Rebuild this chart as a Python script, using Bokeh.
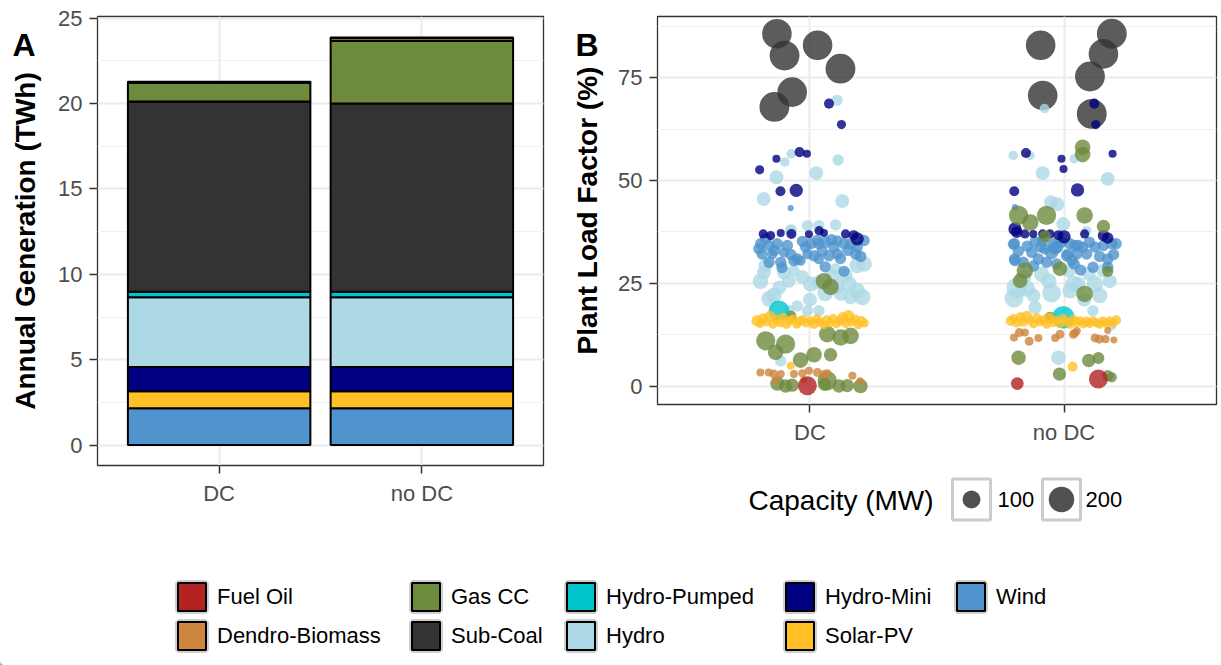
import numpy as np
from bokeh.plotting import figure
from bokeh.models import (Range1d, SingleIntervalTicker, FixedTicker, ColumnDataSource,
                          Legend, LegendItem)
from bokeh.core.properties import value
from bokeh.layouts import column, row
from bokeh.embed import file_html
from bokeh.resources import INLINE

FONT = "Liberation Sans"

scenarios = ["DC", "no DC"]
scenario_pos = [1, 2]

# plant types in legend order, with their fill colours
plant_types = ["Fuel Oil", "Dendro-Biomass", "Gas CC", "Sub-Coal", "Hydro-Pumped",
               "Hydro", "Hydro-Mini", "Solar-PV", "Wind"]
type_colors = ["#B22222", "#CD853F", "#6E8B3D", "#333333", "#00C5CD",
               "#ADD8E6", "#000080", "#FFC125", "#4F94CD"]
color_of = dict(zip(plant_types, type_colors))

# ---- Panel A: annual generation (TWh) per plant type, [DC, no DC]
gen_wind = [2.15, 2.15]
gen_solar = [1.00, 1.00]
gen_hydro_mini = [1.42, 1.42]
gen_hydro = [4.08, 4.08]
gen_hydro_pumped = [0.33, 0.33]
gen_sub_coal = [11.14, 11.02]
gen_gas_cc = [1.10, 3.68]
gen_biomass = [0.04, 0.15]
gen_fuel_oil = [0.01, 0.04]

# ---- Panel B: individual plants as (jitter, plant load factor %, capacity MW)
dc_sub_coal = [(-0.13, 85.7, 270), (-0.10, 80.4, 275), (0.03, 82.9, 270), (0.12, 77.2, 275),
               (-0.07, 71.5, 270), (-0.14, 67.9, 275)]
dc_hydro = [(0.107, 69.5, 40), (-0.074, 56.5, 28), (-0.099, 54.5, 28), (0.025, 51.8, 60),
            (0.111, 55.0, 40), (-0.132, 50.8, 60), (-0.182, 45.5, 60), (0.127, 45.0, 60),
            (-0.074, 38.0, 40), (-0.010, 39.0, 40), (0.035, 39.0, 40), (0.101, 39.2, 40),
            (-0.076, 37.8, 40), (-0.181, 27.6, 60), (-0.175, 29.3, 60), (-0.102, 27.6, 60),
            (-0.083, 25.6, 60), (-0.142, 22.0, 75), (-0.161, 21.2, 75), (0.003, 24.8, 75),
            (0.035, 25.2, 60), (0.088, 26.8, 60), (0.108, 24.4, 75), (0.154, 24.8, 75),
            (0.186, 23.2, 75), (0.206, 21.6, 85), (0.186, 29.3, 75), (0.121, 22.4, 60),
            (0.160, 21.6, 60), (-0.050, 19.5, 40), (-0.083, 18.3, 40), (-0.010, 18.3, 40),
            (0.035, 18.3, 40), (-0.115, 6.1, 40), (-0.063, 28.1, 40), (0.101, 28.5, 40),
            (0.213, 29.7, 75), (-0.195, 25.5, 75), (-0.120, 24.0, 60), (0.060, 22.5, 75),
            (0.140, 27.0, 60), (-0.030, 26.5, 60), (0.000, 21.0, 60)]
dc_wind = [(-0.194, 34.6, 40), (-0.161, 34.2, 40), (-0.129, 34.6, 40), (-0.089, 34.2, 40),
           (-0.188, 32.1, 40), (-0.148, 32.1, 33), (-0.115, 30.1, 40), (-0.063, 30.5, 40),
           (-0.037, 30.5, 33), (-0.017, 33.8, 40), (0.003, 34.6, 40), (0.035, 34.6, 40),
           (0.062, 35.0, 40), (0.094, 33.8, 40), (0.108, 32.1, 40), (0.134, 34.6, 40),
           (0.160, 34.6, 40), (0.186, 33.8, 40), (0.180, 32.1, 40), (0.016, 31.7, 40),
           (0.035, 30.9, 33), (0.075, 31.7, 40), (0.134, 27.9, 40), (0.029, 35.4, 40),
           (-0.010, 32.1, 33), (-0.161, 30.1, 40), (-0.050, 30.9, 40), (-0.102, 32.5, 33),
           (-0.201, 33.4, 40), (0.213, 35.4, 40), (0.108, 35.4, 33), (-0.076, 43.3, 12),
           (-0.175, 35.8, 40), (-0.140, 33.0, 40), (-0.075, 32.0, 40), (-0.030, 35.2, 40),
           (0.048, 32.8, 40), (0.085, 35.6, 40), (0.120, 31.0, 40), (0.150, 33.0, 40),
           (0.200, 31.5, 40), (-0.110, 28.8, 40), (0.060, 29.0, 40)]
dc_hydro_mini = [(0.075, 68.7, 31), (0.124, 63.6, 26), (-0.198, 52.6, 26), (-0.132, 55.3, 20),
                 (-0.041, 56.9, 31), (-0.012, 56.5, 20), (-0.116, 47.4, 31), (-0.054, 47.6, 55),
                 (-0.184, 37.0, 26), (-0.155, 36.6, 26), (-0.115, 37.2, 20), (-0.073, 37.0, 31),
                 (-0.004, 36.9, 20), (0.036, 37.8, 26), (0.055, 37.2, 20), (0.140, 37.0, 26),
                 (0.186, 35.8, 55), (0.172, 36.7, 31)]
dc_gas_cc = [(0.055, 25.5, 85), (0.081, 24.1, 85), (-0.076, 17.0, 40), (-0.174, 11.0, 115),
             (-0.096, 10.2, 115), (-0.135, 8.2, 75), (-0.037, 6.3, 75), (0.016, 7.6, 75),
             (0.081, 7.6, 55), (0.068, 12.6, 85), (0.121, 11.8, 85), (0.160, 12.2, 85),
             (-0.128, 0.6, 65), (-0.096, 0.0, 55), (-0.070, 0.2, 55), (0.068, 1.3, 115),
             (0.114, 0.0, 55), (0.147, 0.1, 55), (0.199, 0.0, 65), (0.058, 0.4, 55)]
dc_hydro_pumped = [(-0.122, 18.3, 130)]
dc_solar = [(-0.208, 15.9, 40), (-0.196, 15.2, 25), (-0.183, 16.5, 31), (-0.171, 15.6, 25),
            (-0.157, 16.9, 40), (-0.146, 15.0, 25), (-0.131, 16.2, 31), (-0.118, 15.4, 25),
            (-0.104, 16.7, 25), (-0.093, 15.1, 31), (-0.079, 15.9, 25), (-0.066, 16.3, 25),
            (-0.052, 15.0, 25), (-0.041, 15.7, 31), (-0.027, 16.2, 25), (-0.014, 15.3, 25),
            (0.003, 15.9, 25), (0.015, 15.1, 31), (0.028, 16.4, 25), (0.041, 15.5, 25),
            (0.054, 14.9, 25), (0.066, 16.0, 31), (0.079, 15.4, 25), (0.091, 16.4, 25),
            (0.104, 15.1, 25), (0.117, 15.8, 31), (0.129, 16.6, 40), (0.142, 15.2, 25),
            (0.152, 17.1, 40), (0.165, 15.6, 25), (0.178, 16.2, 31), (0.190, 14.9, 25),
            (0.202, 15.8, 31), (0.214, 15.3, 25), (-0.076, 4.9, 20)]
dc_biomass = [(-0.195, 3.3, 20), (-0.162, 3.3, 20), (-0.142, 2.9, 25), (-0.115, 2.9, 20),
              (-0.063, 2.9, 20), (-0.030, 3.1, 20), (-0.004, 3.7, 20), (0.029, 3.3, 25),
              (0.055, 2.9, 20), (0.068, 3.1, 20), (0.167, 2.5, 20), (0.197, 1.3, 15),
              (-0.135, 1.3, 15), (-0.024, 1.5, 15)]
dc_fuel_oil = [(-0.010, 0.05, 110)]

nodc_sub_coal = [(-0.092, 82.9, 270), (0.188, 85.7, 275), (0.155, 80.8, 270), (0.102, 75.3, 275),
                 (-0.084, 70.7, 270), (0.109, 66.2, 275)]
nodc_hydro = [(-0.077, 67.5, 28), (-0.200, 56.1, 28), (-0.134, 56.1, 28), (-0.084, 51.8, 60),
              (0.040, 55.3, 28), (0.172, 50.4, 60), (-0.051, 44.7, 60), (-0.026, 44.2, 60),
              (-0.003, 39.4, 60), (0.089, 37.8, 28), (-0.186, 23.9, 130), (-0.197, 21.4, 110),
              (-0.147, 23.7, 85), (-0.088, 27.2, 75), (-0.049, 22.6, 110), (-0.114, 19.1, 55),
              (-0.022, 6.9, 65), (0.037, 24.8, 85), (0.024, 23.2, 75), (0.122, 24.8, 85),
              (0.056, 24.8, 65), (0.114, 18.3, 40), (0.188, 14.7, 28), (0.155, 28.1, 60),
              (0.097, 27.3, 60), (0.020, 28.0, 60), (-0.160, 26.5, 75), (-0.060, 25.5, 75),
              (0.080, 21.0, 60), (0.140, 22.0, 75), (0.180, 25.5, 60), (-0.120, 22.0, 60)]
nodc_wind = [(-0.199, 34.5, 40), (-0.193, 30.5, 40), (-0.160, 30.1, 40), (-0.114, 35.0, 40),
             (-0.127, 32.5, 40), (-0.101, 30.9, 40), (-0.068, 30.1, 40), (-0.042, 34.6, 40),
             (-0.049, 32.5, 55), (-0.029, 29.7, 40), (0.010, 31.7, 40), (0.043, 34.2, 40),
             (0.050, 32.1, 40), (-0.193, 43.5, 12), (-0.029, 33.8, 55), (-0.075, 33.4, 40),
             (0.023, 34.6, 40), (0.056, 34.2, 40), (0.089, 32.1, 40), (0.122, 33.8, 40),
             (0.155, 34.2, 40), (0.172, 30.9, 40), (0.188, 34.6, 40), (0.205, 34.6, 40),
             (0.114, 28.9, 40), (0.073, 33.8, 40), (0.040, 29.7, 40), (0.015, 32.1, 40),
             (0.172, 28.9, 40), (-0.035, 33.4, 40), (-0.092, 33.8, 40), (-0.195, 34.6, 40),
             (-0.195, 30.9, 40), (-0.180, 32.8, 40), (-0.145, 34.0, 40), (-0.085, 35.4, 40),
             (-0.010, 35.0, 40), (0.030, 30.6, 40), (0.100, 35.0, 40), (0.140, 31.5, 40),
             (0.195, 32.0, 40), (-0.120, 29.2, 40), (0.065, 28.2, 40)]
nodc_hydro_mini = [(0.119, 68.7, 31), (0.125, 63.6, 26), (0.191, 56.5, 20), (0.053, 47.7, 55),
                   (-0.010, 55.3, 20), (-0.002, 52.8, 20), (-0.150, 56.7, 31), (-0.196, 47.4, 31),
                   (-0.193, 38.2, 55), (-0.186, 37.4, 40), (-0.154, 37.0, 26), (-0.121, 37.0, 20),
                   (-0.084, 37.0, 26), (-0.055, 37.0, 26), (-0.022, 36.7, 31), (0.000, 36.3, 55),
                   (0.081, 37.0, 26), (0.155, 36.6, 40), (0.172, 36.0, 40)]
nodc_gas_cc = [(0.073, 58.1, 75), (0.073, 56.3, 75), (-0.179, 41.5, 115), (-0.133, 39.8, 85),
               (-0.069, 41.5, 115), (0.081, 41.5, 85), (0.155, 38.8, 55), (-0.154, 28.1, 85),
               (-0.173, 25.6, 65), (-0.016, 28.5, 65), (0.172, 27.9, 40), (0.081, 22.4, 85),
               (-0.055, 16.7, 40), (-0.179, 6.9, 65), (-0.018, 2.9, 55), (0.097, 6.2, 55),
               (0.135, 6.8, 45), (0.172, 2.5, 40), (0.188, 2.1, 31), (-0.075, 36.4, 45)]
nodc_hydro_pumped = [(-0.003, 16.7, 155)]
nodc_solar = [(-0.210, 15.8, 31), (-0.199, 16.4, 25), (-0.186, 15.3, 25), (-0.172, 16.7, 31),
              (-0.160, 15.5, 25), (-0.147, 16.9, 40), (-0.133, 15.9, 25), (-0.120, 15.1, 25),
              (-0.107, 16.5, 31), (-0.094, 15.6, 25), (-0.081, 16.1, 25), (-0.068, 15.0, 25),
              (-0.056, 16.6, 31), (-0.043, 15.4, 25), (-0.030, 16.0, 25), (-0.017, 15.2, 25),
              (-0.004, 16.3, 31), (0.010, 15.6, 25), (0.023, 15.0, 25), (0.036, 16.1, 31),
              (0.049, 15.4, 25), (0.062, 15.9, 25), (0.075, 15.1, 25), (0.088, 15.7, 31),
              (0.101, 15.2, 25), (0.114, 15.9, 25), (0.127, 15.4, 25), (0.140, 15.0, 25),
              (0.153, 15.7, 31), (0.166, 15.2, 25), (0.179, 15.8, 25), (0.192, 15.3, 25),
              (0.205, 16.0, 31), (0.034, 4.7, 31)]
nodc_biomass = [(-0.197, 11.8, 20), (-0.176, 13.0, 25), (-0.154, 13.0, 20), (-0.137, 10.9, 25),
                (-0.101, 11.7, 20), (-0.035, 11.7, 20), (-0.016, 12.6, 25), (0.037, 12.6, 25),
                (0.050, 13.4, 20), (0.043, 12.9, 20), (0.122, 11.7, 25), (0.139, 11.4, 25),
                (0.163, 11.4, 20), (0.196, 11.2, 15), (0.172, 13.5, 15)]
nodc_fuel_oil = [(-0.184, 0.6, 50), (0.135, 1.7, 110)]

capacity_breaks = [100, 200]

# panel tags and axis titles
tag_a, title_a = "A", "Annual Generation (TWh)"
tag_b, title_b = "B", "Plant Load Factor (%)"


def point_size(mw):
    # marker diameter (px) grows with the square root of capacity (area scale)
    return 1.8 * np.sqrt(np.asarray(mw, dtype=float))


def style_axes(p):
    p.outline_line_color = "#333333"
    p.outline_line_width = 1.3
    for ax in (p.xaxis, p.yaxis):
        ax.axis_line_color = None
        ax.major_tick_line_color = "#333333"
        ax.major_tick_line_width = 1.5
        ax.major_tick_in = 0
        ax.major_tick_out = 8
        ax.minor_tick_line_color = None
        ax.major_label_text_font = FONT
        ax.major_label_text_font_size = "22px"
        ax.major_label_text_color = "#4D4D4D"
    p.yaxis.major_label_standoff = 7
    p.xaxis.major_label_standoff = 7
    p.xgrid.ticker = FixedTicker(ticks=scenario_pos)
    p.xaxis.ticker = FixedTicker(ticks=scenario_pos)
    p.xaxis.major_label_overrides = {pos: name for pos, name in zip(scenario_pos, scenarios)}
    p.grid.grid_line_color = "#EBEBEB"
    p.grid.grid_line_width = 2
    p.ygrid.minor_grid_line_color = "#F0F0F0"
    p.ygrid.minor_grid_line_width = 1.2
    p.background_fill_color = "white"
    p.border_fill_color = "white"


def title_strip(width, height, top, bottom, tag, tag_x, title, title_x):
    # narrow strip left of a panel holding its tag letter and rotated axis title;
    # its y range runs in canvas pixels so it lines up with the panel frame
    s = figure(width=width, height=height, x_range=Range1d(0, width),
               y_range=Range1d(bottom, top), min_border_left=0, min_border_right=0,
               min_border_top=top, min_border_bottom=height - bottom,
               toolbar_location=None, output_backend="svg",
               x_axis_type=None, y_axis_type=None, outline_line_color=None)
    s.grid.visible = False
    s.text(x=[tag_x], y=[top + 28], text=[tag], text_font=value(FONT),
           text_font_style="bold", text_font_size="32px", text_baseline="alphabetic",
           text_color="black")
    s.text(x=[title_x], y=[(top + bottom) / 2], text=[title], angle=np.pi / 2,
           text_font=value(FONT), text_font_style="bold", text_font_size="28px",
           text_align="center", text_baseline="middle", text_color="black")
    return s


# ---------------- Panel A: stacked annual generation
sA = title_strip(50, 530, 16, 465, tag_a, 12, title_a, 25)
pA = figure(width=510, height=530, x_range=Range1d(0.4, 2.6), y_range=Range1d(-1.195, 25.095),
            min_border_left=47, min_border_right=17, min_border_top=16, min_border_bottom=65,
            toolbar_location=None, output_backend="svg")
style_axes(pA)
pA.yaxis.ticker = SingleIntervalTicker(interval=5, num_minor_ticks=2)
pA.ygrid.ticker = SingleIntervalTicker(interval=5, num_minor_ticks=2)

stack_order = ["Wind", "Solar-PV", "Hydro-Mini", "Hydro", "Hydro-Pumped",
               "Sub-Coal", "Gas CC", "Dendro-Biomass", "Fuel Oil"]
gen_values = [gen_wind, gen_solar, gen_hydro_mini, gen_hydro, gen_hydro_pumped,
              gen_sub_coal, gen_gas_cc, gen_biomass, gen_fuel_oil]
bar_src = ColumnDataSource(dict(x=scenario_pos, **{k: v for k, v in zip(stack_order, gen_values)}))
pA.vbar_stack(stack_order, x="x", width=0.9, source=bar_src,
              fill_color=[color_of[k] for k in stack_order],
              line_color="black", line_width=2)

# ---------------- Panel B: plant load factor per plant
sB = title_strip(50, 462, 16, 404, tag_b, 15, title_b, 27)
pB = figure(width=611, height=462, x_range=Range1d(0.4, 2.6), y_range=Range1d(-4.5, 89.9),
            min_border_left=47, min_border_right=5, min_border_top=16, min_border_bottom=58,
            toolbar_location=None, output_backend="svg")
style_axes(pB)
pB.yaxis.ticker = SingleIntervalTicker(interval=25, num_minor_ticks=2)
pB.ygrid.ticker = SingleIntervalTicker(interval=25, num_minor_ticks=2)

plants = {
    "Sub-Coal": (dc_sub_coal, nodc_sub_coal),
    "Hydro": (dc_hydro, nodc_hydro),
    "Wind": (dc_wind, nodc_wind),
    "Hydro-Mini": (dc_hydro_mini, nodc_hydro_mini),
    "Gas CC": (dc_gas_cc, nodc_gas_cc),
    "Hydro-Pumped": (dc_hydro_pumped, nodc_hydro_pumped),
    "Solar-PV": (dc_solar, nodc_solar),
    "Dendro-Biomass": (dc_biomass, nodc_biomass),
    "Fuel Oil": (dc_fuel_oil, nodc_fuel_oil),
}
for ptype, per_scen in plants.items():
    xs, ys, mws = [], [], []
    for pos, pts in zip(scenario_pos, per_scen):
        for jit, plf, mw in pts:
            xs.append(pos + jit)
            ys.append(plf)
            mws.append(mw)
    src = ColumnDataSource(dict(x=xs, y=ys, size=point_size(mws)))
    pB.scatter(x="x", y="y", size="size", source=src, marker="circle",
               fill_color=color_of[ptype], fill_alpha=0.8, line_color=None)

# ---------------- capacity size legend under panel B (canvas pixel coordinates)
pCap = figure(width=661, height=68, x_range=Range1d(657, 1216), y_range=Range1d(530, 462),
              min_border_left=97, min_border_right=5, min_border_top=0, min_border_bottom=0,
              toolbar_location=None, output_backend="svg",
              x_axis_type=None, y_axis_type=None, outline_line_color=None)
pCap.grid.visible = False
cap_key_x = [971, 1061]
cap_key_y = [499, 499]
pCap.rect(x=cap_key_x, y=cap_key_y, width=38, height=41, fill_color="white",
          line_color="#CCCCCC", line_width=3)
pCap.scatter(x=cap_key_x, y=cap_key_y, size=point_size(capacity_breaks), marker="circle",
             fill_color="#333333", fill_alpha=0.85, line_color=None)
pCap.text(x=[997, 1085], y=cap_key_y, text=[str(b) for b in capacity_breaks],
          text_font=value(FONT), text_font_size="22px", text_baseline="middle",
          text_color="black")
pCap.text(x=[748], y=[500], text=["Capacity (MW)"], text_font=value(FONT),
          text_font_size="28px", text_baseline="middle", text_color="black")

# ---------------- fill legend for plant types
pL = figure(width=1221, height=135, x_range=Range1d(0, 1), y_range=Range1d(0, 1),
            min_border=0, toolbar_location=None, output_backend="svg",
            x_axis_type=None, y_axis_type=None, outline_line_color=None)
pL.grid.visible = False
legend_columns = [["Fuel Oil", "Dendro-Biomass"], ["Gas CC", "Sub-Coal"],
                  ["Hydro-Pumped", "Hydro"], ["Hydro-Mini", "Solar-PV"], ["Wind"]]
legend_col_x = [174, 408, 563, 782, 953]
for names, lx in zip(legend_columns, legend_col_x):
    items = []
    for name in names:
        # key renderers sit outside the visible range; only their legend swatches show
        ring = pL.vbar(x=[-5], top=[-5], bottom=[-6], width=1, fill_color=None,
                       line_color="#CFCFCF", line_width=6)
        box = pL.vbar(x=[-5], top=[-5], bottom=[-6], width=1, fill_color=color_of[name],
                      line_color="black", line_width=2)
        items.append(LegendItem(label=name, renderers=[ring, box]))
    height = 35 * len(names) + 4 * (len(names) - 1)
    leg = Legend(items=items, location=(lx, 135 - 49 - height), orientation="vertical",
                 glyph_width=35, glyph_height=35, label_height=35, spacing=4,
                 label_standoff=8, padding=0, margin=0,
                 label_text_font=FONT, label_text_font_size="22px",
                 label_text_color="black", background_fill_alpha=0,
                 border_line_alpha=0)
    pL.add_layout(leg, "center")

right_group = column(row(sB, pB, spacing=0), pCap, spacing=0)
top_row = row(sA, pA, right_group, spacing=0)
layout = column(top_row, pL, spacing=0)
open("out.html", "w").write(file_html(layout, INLINE))
